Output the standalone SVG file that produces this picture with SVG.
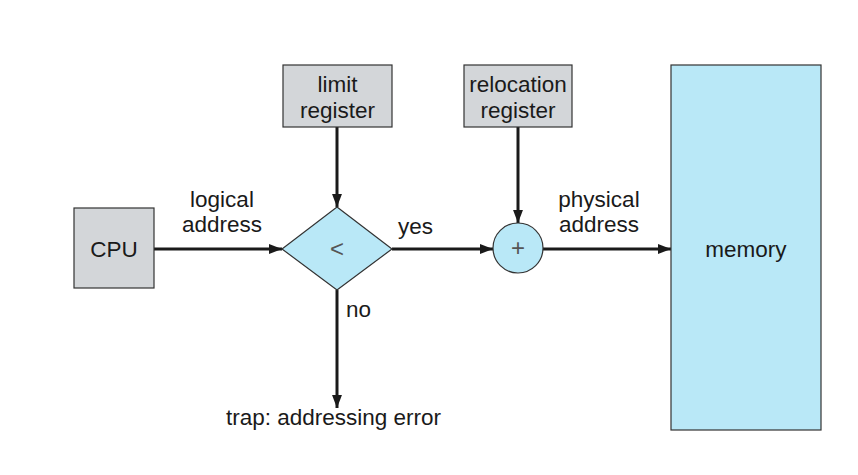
<svg xmlns="http://www.w3.org/2000/svg" width="858" height="475" viewBox="0 0 858 475">
<defs>
<style>
text{font-family:"Liberation Sans",Arial,sans-serif;font-size:22.5px;fill:#1a1a1a}
.c{text-anchor:middle}
.gray{fill:#d3d6d9;stroke:#333;stroke-width:1.2}
.blue{fill:#b9e8f7;stroke:#333;stroke-width:1.2}
.edge{stroke:#1a1a1a;stroke-width:3;fill:none}
.sym{fill:#555;font-weight:300}
</style>
<marker id="ah" viewBox="0 0 10 10" refX="10" refY="5" markerWidth="4.5" markerHeight="4.5" markerUnits="strokeWidth" orient="auto">
<path d="M0,1.2 L10,5 L0,8.8 z" fill="#1a1a1a"/>
</marker>
</defs>
<rect width="858" height="475" fill="#fff"/>
<g id="connectors">
<line class="edge" x1="154" y1="249" x2="282" y2="249" marker-end="url(#ah)"/>
<line class="edge" x1="337" y1="127" x2="337" y2="207" marker-end="url(#ah)"/>
<line class="edge" x1="392" y1="249" x2="493" y2="249" marker-end="url(#ah)"/>
<line class="edge" x1="518" y1="127" x2="518" y2="223" marker-end="url(#ah)"/>
<line class="edge" x1="543" y1="249" x2="671" y2="249" marker-end="url(#ah)"/>
<line class="edge" x1="337" y1="290" x2="337" y2="408" marker-end="url(#ah)"/>
<text class="c" x="222" y="207">logical</text>
<text class="c" x="222" y="232">address</text>
<text x="398" y="234">yes</text>
<text class="c" x="599" y="207">physical</text>
<text class="c" x="599" y="232">address</text>
<text x="346" y="317">no</text>
</g>
<g id="cpu">
<rect class="gray" x="74" y="208" width="80" height="80"/>
<text class="c" x="114" y="257">CPU</text>
</g>
<g id="limit">
<rect class="gray" x="283" y="65" width="109" height="62"/>
<text class="c" x="337.5" y="92">limit</text>
<text class="c" x="337.5" y="118">register</text>
</g>
<g id="relocation">
<rect class="gray" x="464" y="65" width="108" height="62"/>
<text class="c" x="518" y="92">relocation</text>
<text class="c" x="518" y="118">register</text>
</g>
<g id="compare">
<polygon class="blue" points="337,207 392,249 337,290 282,249"/>
<text class="c sym" x="337" y="257" style="font-size:24px">&lt;</text>
</g>
<g id="adder">
<circle class="blue" cx="518" cy="248" r="25"/>
<text class="c sym" x="518" y="256" style="font-size:24px">+</text>
</g>
<g id="memory">
<rect class="blue" x="671" y="65" width="150" height="365"/>
<text class="c" x="746" y="257">memory</text>
</g>
<g id="trap">
<text x="226" y="425">trap: addressing error</text>
</g>
</svg>
